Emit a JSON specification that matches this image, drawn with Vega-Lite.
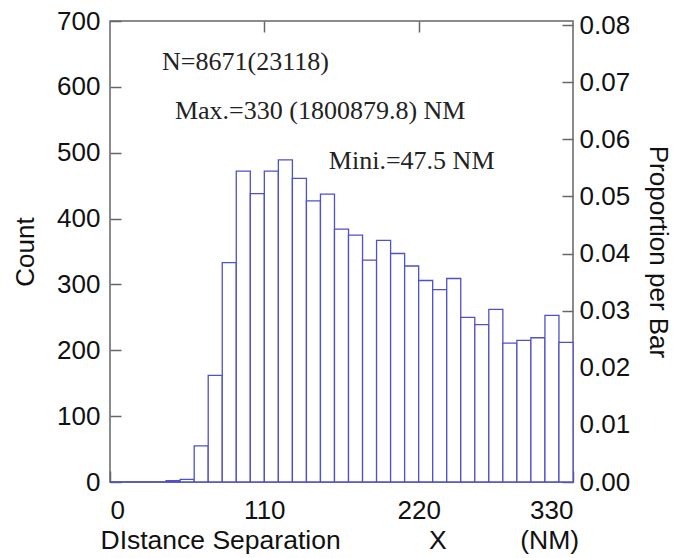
{
  "$schema": "https://vega.github.io/schema/vega-lite/v6.json",
  "width": 463,
  "height": 461,
  "autosize": {"type": "none"},
  "padding": {"left": 110, "top": 21, "right": 102, "bottom": 76},
  "background": "white",
  "datasets": {
    "bins": [
      {"bin_start": 0, "bin_end": 10, "count": 0},
      {"bin_start": 10, "bin_end": 20, "count": 0},
      {"bin_start": 20, "bin_end": 30, "count": 0},
      {"bin_start": 30, "bin_end": 40, "count": 0},
      {"bin_start": 40, "bin_end": 50, "count": 2},
      {"bin_start": 50, "bin_end": 60, "count": 4},
      {"bin_start": 60, "bin_end": 70, "count": 55},
      {"bin_start": 70, "bin_end": 80, "count": 162},
      {"bin_start": 80, "bin_end": 90, "count": 333},
      {"bin_start": 90, "bin_end": 100, "count": 472},
      {"bin_start": 100, "bin_end": 110, "count": 438},
      {"bin_start": 110, "bin_end": 120, "count": 472},
      {"bin_start": 120, "bin_end": 130, "count": 489},
      {"bin_start": 130, "bin_end": 140, "count": 461},
      {"bin_start": 140, "bin_end": 150, "count": 427},
      {"bin_start": 150, "bin_end": 160, "count": 437},
      {"bin_start": 160, "bin_end": 170, "count": 384},
      {"bin_start": 170, "bin_end": 180, "count": 375},
      {"bin_start": 180, "bin_end": 190, "count": 337},
      {"bin_start": 190, "bin_end": 200, "count": 367},
      {"bin_start": 200, "bin_end": 210, "count": 347},
      {"bin_start": 210, "bin_end": 220, "count": 328},
      {"bin_start": 220, "bin_end": 230, "count": 306},
      {"bin_start": 230, "bin_end": 240, "count": 292},
      {"bin_start": 240, "bin_end": 250, "count": 309},
      {"bin_start": 250, "bin_end": 260, "count": 250},
      {"bin_start": 260, "bin_end": 270, "count": 239},
      {"bin_start": 270, "bin_end": 280, "count": 262},
      {"bin_start": 280, "bin_end": 290, "count": 211},
      {"bin_start": 290, "bin_end": 300, "count": 215},
      {"bin_start": 300, "bin_end": 310, "count": 219},
      {"bin_start": 310, "bin_end": 320, "count": 253},
      {"bin_start": 320, "bin_end": 330, "count": 212}
    ]
  },
  "config": {
    "view": {"stroke": "#666666", "strokeWidth": 1.5},
    "axis": {
      "grid": false,
      "domain": false,
      "offset": -11,
      "labelFont": "Liberation Sans",
      "labelFontSize": 26,
      "labelColor": "#111111",
      "titleFont": "Liberation Sans",
      "titleFontSize": 26,
      "titleFontWeight": "normal",
      "titleColor": "#111111",
      "tickColor": "#666666",
      "tickWidth": 1.5,
      "tickSize": 11
    }
  },
  "layer": [
    {
      "layer": [
        {
          "data": {"name": "bins"},
          "mark": {"type": "rect", "fill": "white", "stroke": "#5050c8", "strokeWidth": 1.3},
          "encoding": {
            "x": {
              "field": "bin_start",
              "type": "quantitative",
              "scale": {"domain": [0, 330], "nice": false, "zero": false},
              "axis": {
                "values": [0, 110, 220, 330],
                "labelPadding": 15,
                "title": "DIstance Separation\u00a0\u00a0\u00a0\u00a0\u00a0\u00a0\u00a0\u00a0\u00a0\u00a0\u00a0\u00a0X\u00a0\u00a0\u00a0\u00a0\u00a0\u00a0\u00a0\u00a0\u00a0\u00a0(NM)",
                "titleFontSize": 26.5,
                "titleAnchor": "start",
                "titleAlign": "left",
                "titleX": -10,
                "titleY": 77,
                "titleBaseline": "alphabetic"
              }
            },
            "x2": {"field": "bin_end"},
            "y": {
              "field": "count",
              "type": "quantitative",
              "scale": {"domain": [0, 700], "nice": false},
              "axis": {
                "values": [0, 100, 200, 300, 400, 500, 600, 700],
                "labelPadding": 10,
                "title": "Count",
                "titlePadding": 18
              }
            },
            "y2": {"datum": 0}
          }
        },
        {
          "data": {"values": [{"label": "N=8671(23118)"}]},
          "mark": {"type": "text", "font": "Liberation Serif", "fontSize": 26, "color": "#222222", "align": "left", "baseline": "alphabetic"},
          "encoding": {
            "x": {"datum": 37.1, "type": "quantitative"},
            "y": {"datum": 625, "type": "quantitative"},
            "text": {"field": "label"}
          }
        },
        {
          "data": {"values": [{"label": "Max.=330 (1800879.8) NM"}]},
          "mark": {"type": "text", "font": "Liberation Serif", "fontSize": 26, "color": "#222222", "align": "left", "baseline": "alphabetic"},
          "encoding": {
            "x": {"datum": 46.3, "type": "quantitative"},
            "y": {"datum": 551, "type": "quantitative"},
            "text": {"field": "label"}
          }
        },
        {
          "data": {"values": [{"label": "Mini.=47.5 NM"}]},
          "mark": {"type": "text", "font": "Liberation Serif", "fontSize": 26, "color": "#222222", "align": "left", "baseline": "alphabetic"},
          "encoding": {
            "x": {"datum": 156, "type": "quantitative"},
            "y": {"datum": 476, "type": "quantitative"},
            "text": {"field": "label"}
          }
        }
      ]
    },
    {
      "data": {"name": "bins"},
      "mark": {"type": "rect", "opacity": 0},
      "encoding": {
        "x": {
          "field": "bin_start",
          "type": "quantitative",
          "scale": {"domain": [0, 330], "nice": false, "zero": false},
          "axis": {"orient": "top", "values": [110, 220], "labels": false, "title": null}
        },
        "x2": {"field": "bin_end"},
        "y": {
          "field": "count",
          "type": "quantitative",
          "scale": {"domain": [0, 700], "nice": false},
          "axis": {
            "orient": "right",
            "values": [0, 86.71, 173.42, 260.13, 346.84, 433.55, 520.26, 606.97, 693.68],
            "labelExpr": "format(datum.value / 8671, '.2f')",
            "labelPadding": 6,
            "title": "Proportion per Bar",
            "titlePadding": 15
          }
        },
        "y2": {"datum": 0}
      }
    }
  ],
  "resolve": {"scale": {"x": "independent", "y": "independent"}}
}
